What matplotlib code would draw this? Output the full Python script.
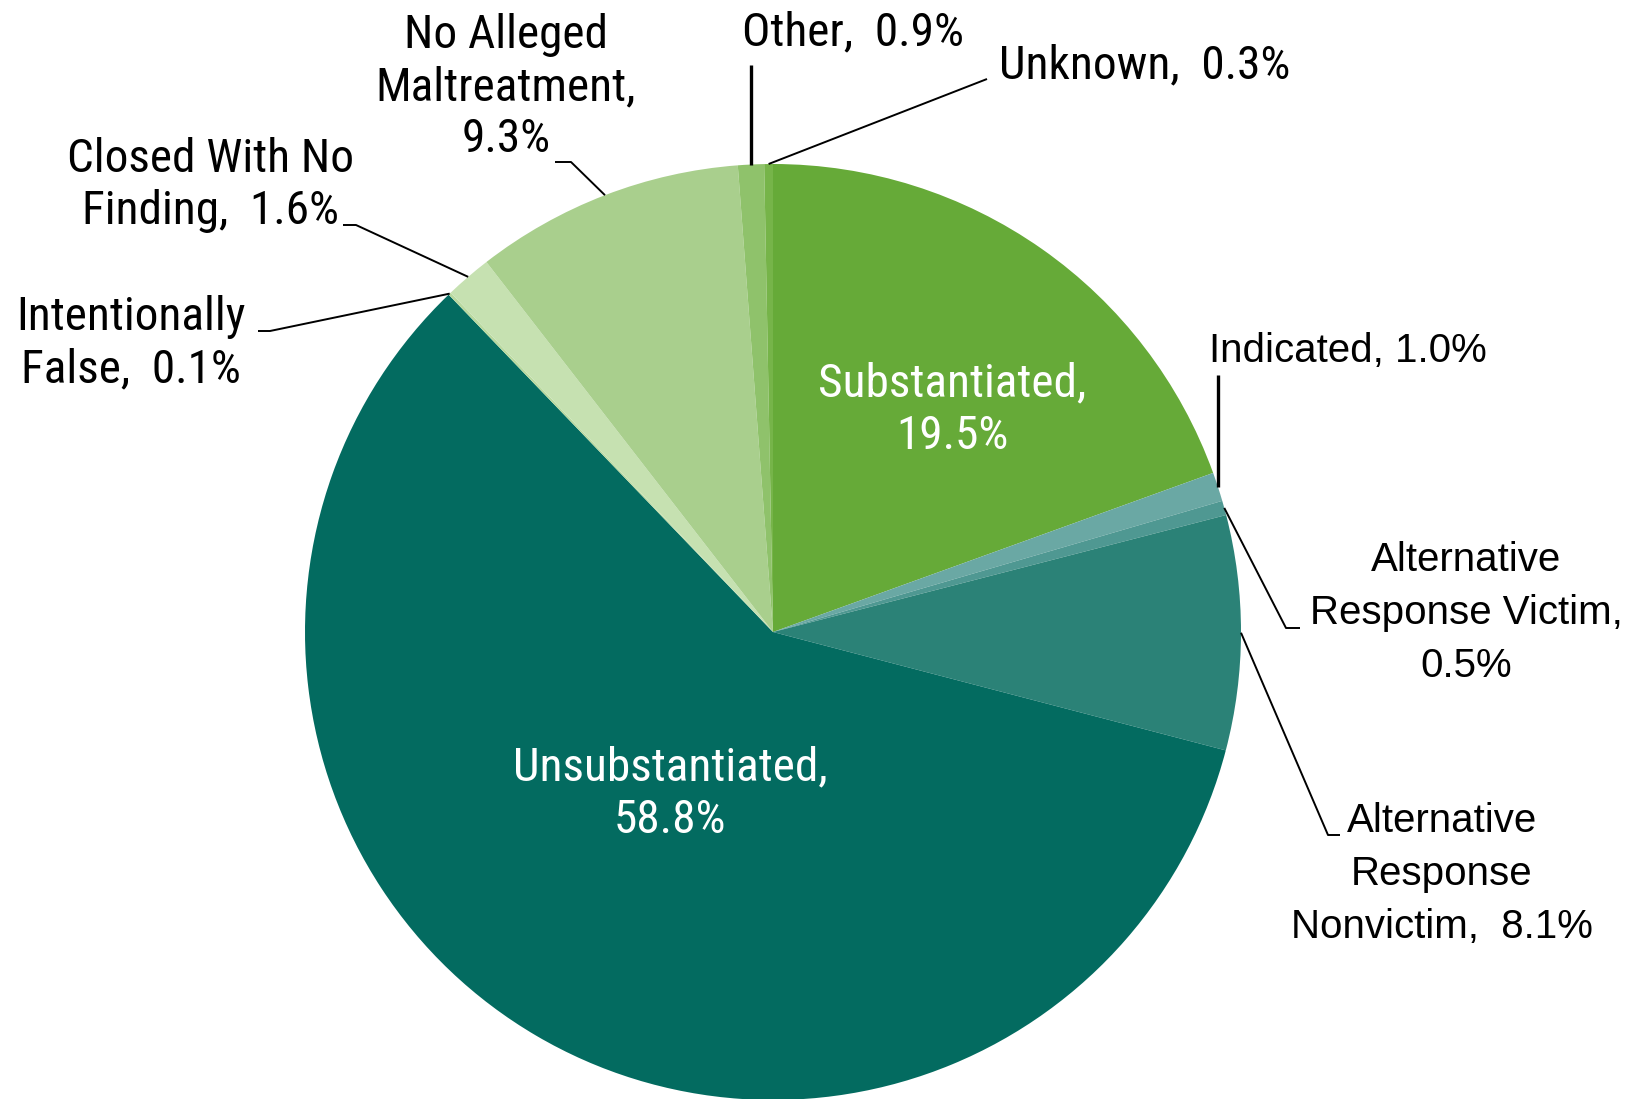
import numpy as np
import matplotlib
matplotlib.use("Agg")
import matplotlib.pyplot as plt
from matplotlib import font_manager as fm

# slices, clockwise from 12 o'clock
categories = ["Substantiated", "Indicated", "Alternative Response Victim",
              "Alternative Response Nonvictim", "Unsubstantiated",
              "Intentionally False", "Closed With No Finding",
              "No Alleged Maltreatment", "Other", "Unknown"]
percents = [19.5, 1.0, 0.5, 8.1, 58.8, 0.1, 1.6, 9.3, 0.9, 0.3]
label_texts = ["Substantiated,\n19.5%", "Indicated, 1.0%",
               "Alternative\nResponse Victim,\n0.5%",
               "Alternative\nResponse\nNonvictim,  8.1%",
               "Unsubstantiated,\n58.8%", "Intentionally\nFalse,  0.1%",
               "Closed With No\nFinding,  1.6%",
               "No Alleged\nMaltreatment,\n9.3%", "Other,  0.9%",
               "Unknown,  0.3%"]
colors = ["#66aa38", "#6aa8a4", "#4f9892", "#2b8277", "#036b60",
          "#b9d99f", "#c6e1b1", "#a9cf8d", "#8fc26b", "#76b449"]

W, H = 1642, 1099
cx, cy, R = 773, 632, 468

# pick a condensed face if one is installed
installed = {f.name for f in fm.fontManager.ttflist}
cond_pref = ["Roboto Condensed", "Archivo Narrow", "PT Sans Narrow",
             "Fira Sans Condensed", "Liberation Sans Narrow", "Arimo"]
cond = next((n for n in cond_pref if n in installed), "DejaVu Sans")
narrow = [cond, "DejaVu Sans"]
wide = ["Liberation Sans", "DejaVu Sans"]

fig = plt.figure(figsize=(W / 100, H / 100), dpi=100)
ax = fig.add_axes([0, 0, 1, 1])

wedges, _ = ax.pie(percents, colors=colors, startangle=90, counterclock=False,
                   center=(cx, H - cy), radius=R,
                   wedgeprops=dict(linewidth=0))
# pie resets the limits, so set them afterwards
ax.set_xlim(0, W)
ax.set_ylim(0, H)
ax.set_aspect("equal")
ax.axis("off")

# label layout: text centre (px, y down), font, colour, leader path (elbow points, y down)
layout = {
    "Substantiated": ((952, 410), narrow, "white", None),
    "Unsubstantiated": ((670, 794), narrow, "white", None),
    "Indicated": ((1348, 351), wide, "black", [(None, 375)]),
    "Alternative Response Victim": ((1466, 613), wide, "black", [(1286, 628), (1300, 628)]),
    "Alternative Response Nonvictim": ((1442, 874), wide, "black", [(1328, 835), (1340, 835)]),
    "Intentionally False": ((131, 343), narrow, "black", [(270, 331), (258, 331)]),
    "Closed With No Finding": ((210, 185), narrow, "black", [(356, 225), (343, 225)]),
    "No Alleged Maltreatment": ((506, 87), narrow, "black", [(571, 162), (555, 162)]),
    "Other": ((853, 32), narrow, "black", [(None, 65)]),
    "Unknown": ((1145, 65), narrow, "black", [(987, 79)]),
}

for w, cat, txt in zip(wedges, categories, label_texts):
    (tx, ty), fam, col, path = layout[cat]
    if fam is wide:
        size, ls = 29, 1.5
    else:
        size, ls = 34, 1.24
    ax.text(tx, H - ty, txt, ha="center", va="center", family=fam,
            fontsize=size, color=col, linespacing=ls)
    if path is None:
        continue
    mid = np.deg2rad((w.theta1 + w.theta2) / 2)
    ex, ey = cx + R * np.cos(mid), (H - cy) + R * np.sin(mid)
    xs, ys = [ex], [ey]
    for px, py in path:
        xs.append(ex if px is None else px)
        ys.append(H - py)
    lw = 2.4 if cat in ("Indicated", "Other") else 1.4
    ax.plot(xs, ys, color="black", lw=lw, solid_capstyle="butt")

fig.savefig("out.png", dpi=100)
